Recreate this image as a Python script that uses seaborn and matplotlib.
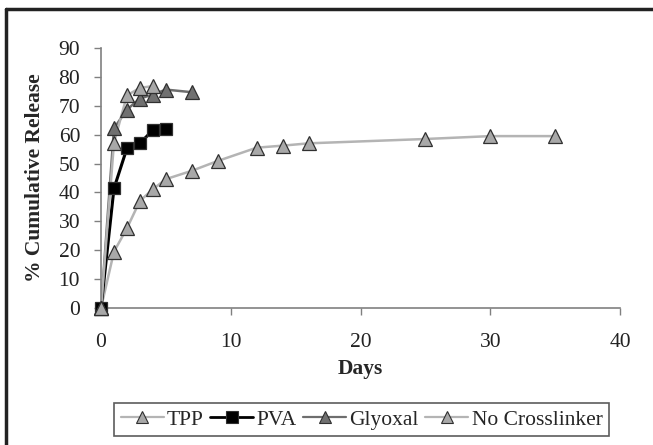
import matplotlib
matplotlib.use("Agg")
import matplotlib.pyplot as plt
import seaborn as sns
import pandas as pd
from matplotlib.lines import Line2D

days_tpp = [0, 1, 2, 3, 4]
rel_tpp = [0, 57.2, 73.6, 76.2, 76.8]

days_pva = [0, 1, 2, 3, 4, 5]
rel_pva = [0, 41.4, 55.3, 57.0, 61.6, 62.1]

days_gly = [0, 1, 2, 3, 4, 5, 7]
rel_gly = [0, 62.2, 68.7, 72.5, 73.9, 75.6, 74.7]

days_nc = [0, 1, 2, 3, 4, 5, 7, 9, 12, 14, 16, 25, 30, 35]
rel_nc = [0, 19.5, 27.6, 37.1, 41.1, 44.6, 47.5, 50.9, 55.5, 56.2, 57.0, 58.5, 59.5, 59.5]

series_names = ["TPP", "PVA", "Glyoxal", "No Crosslinker"]

frames = []
for name, d, r in zip(series_names,
                      [days_tpp, days_pva, days_gly, days_nc],
                      [rel_tpp, rel_pva, rel_gly, rel_nc]):
    frames.append(pd.DataFrame({"Days": d, "Release": r, "Series": name}))
df = pd.concat(frames, ignore_index=True)

sns.set_style("white")
plt.rcParams["font.family"] = ["Liberation Serif", "DejaVu Serif"]

line_colors = {"TPP": "#b4b4b4", "PVA": "#000000", "Glyoxal": "#6e6e6e", "No Crosslinker": "#b4b4b4"}
face_colors = {"TPP": "#a8a8a8", "PVA": "#000000", "Glyoxal": "#707070", "No Crosslinker": "#a8a8a8"}
markers = {"TPP": "^", "PVA": "s", "Glyoxal": "^", "No Crosslinker": "^"}

fig = plt.figure(figsize=(6.53, 4.45), dpi=100)
ax = fig.add_axes([101/653, 1-308/445, (620-101)/653, (308-48)/445])

draw_order = ["No Crosslinker", "PVA", "Glyoxal", "TPP"]
for name in draw_order:
    sub = df[df["Series"] == name]
    sns.lineplot(data=sub, x="Days", y="Release", ax=ax, color=line_colors[name],
                 linewidth=2.2 if name == "PVA" else 1.8, legend=False, sort=False,
                 estimator=None, zorder=2)
    ax.plot(sub["Days"], sub["Release"], linestyle="none", marker=markers[name],
            markersize=9.5 if markers[name] == "^" else 8.5,
            markerfacecolor=face_colors[name], markeredgecolor="#303030",
            markeredgewidth=0.9, zorder=3, clip_on=False)

ax.set_xlim(0, 40)
ax.set_ylim(0, 90)
ax.set_xticks(range(0, 41, 10))
ax.set_yticks(range(0, 91, 10))
ax.set_xlabel("Days", fontsize=15.5, fontweight="bold")
ax.set_ylabel("% Cumulative Release", fontsize=15.5, fontweight="bold")
ax.xaxis.set_label_coords(0.5, (308-359)/260)
ax.yaxis.set_label_coords((45-101)/519, 0.5)
for s in ["top", "right"]:
    ax.spines[s].set_visible(False)
for s in ["left", "bottom"]:
    ax.spines[s].set_color("#808080")
    ax.spines[s].set_linewidth(1.2)
ax.tick_params(axis="both", direction="out", length=5, width=1, color="#808080",
               labelsize=15.5, labelcolor="#222222", left=True, bottom=True)
ax.tick_params(axis="x", pad=13)
ax.tick_params(axis="y", pad=10)

handles = []
for name in series_names:
    handles.append(Line2D([0], [0], color=line_colors[name], linewidth=2 if name == "PVA" else 1.6,
                          marker=markers[name], markersize=9 if markers[name] == "^" else 8,
                          markerfacecolor=face_colors[name], markeredgecolor="#303030",
                          markeredgewidth=0.8))
leg = fig.legend(handles, series_names, loc="center", ncol=4,
                 bbox_to_anchor=((114+609)/2/653, 1-(401+438)/2/445),
                 frameon=True, fancybox=False, fontsize=15.5, handlelength=2.0,
                 handletextpad=0.15, columnspacing=0.3, borderpad=0.3, borderaxespad=0)
leg.get_frame().set_edgecolor("#333333")
leg.get_frame().set_linewidth(1.2)

# outer frame (left and top edges visible)
fig.add_artist(Line2D([6/653, 6/653], [0, 1-9/445], color="#222222", linewidth=2.5,
                      transform=fig.transFigure))
fig.add_artist(Line2D([6/653, 1], [1-9/445, 1-9/445], color="#222222", linewidth=2.5,
                      transform=fig.transFigure))

fig.savefig("out.png", dpi=100)
